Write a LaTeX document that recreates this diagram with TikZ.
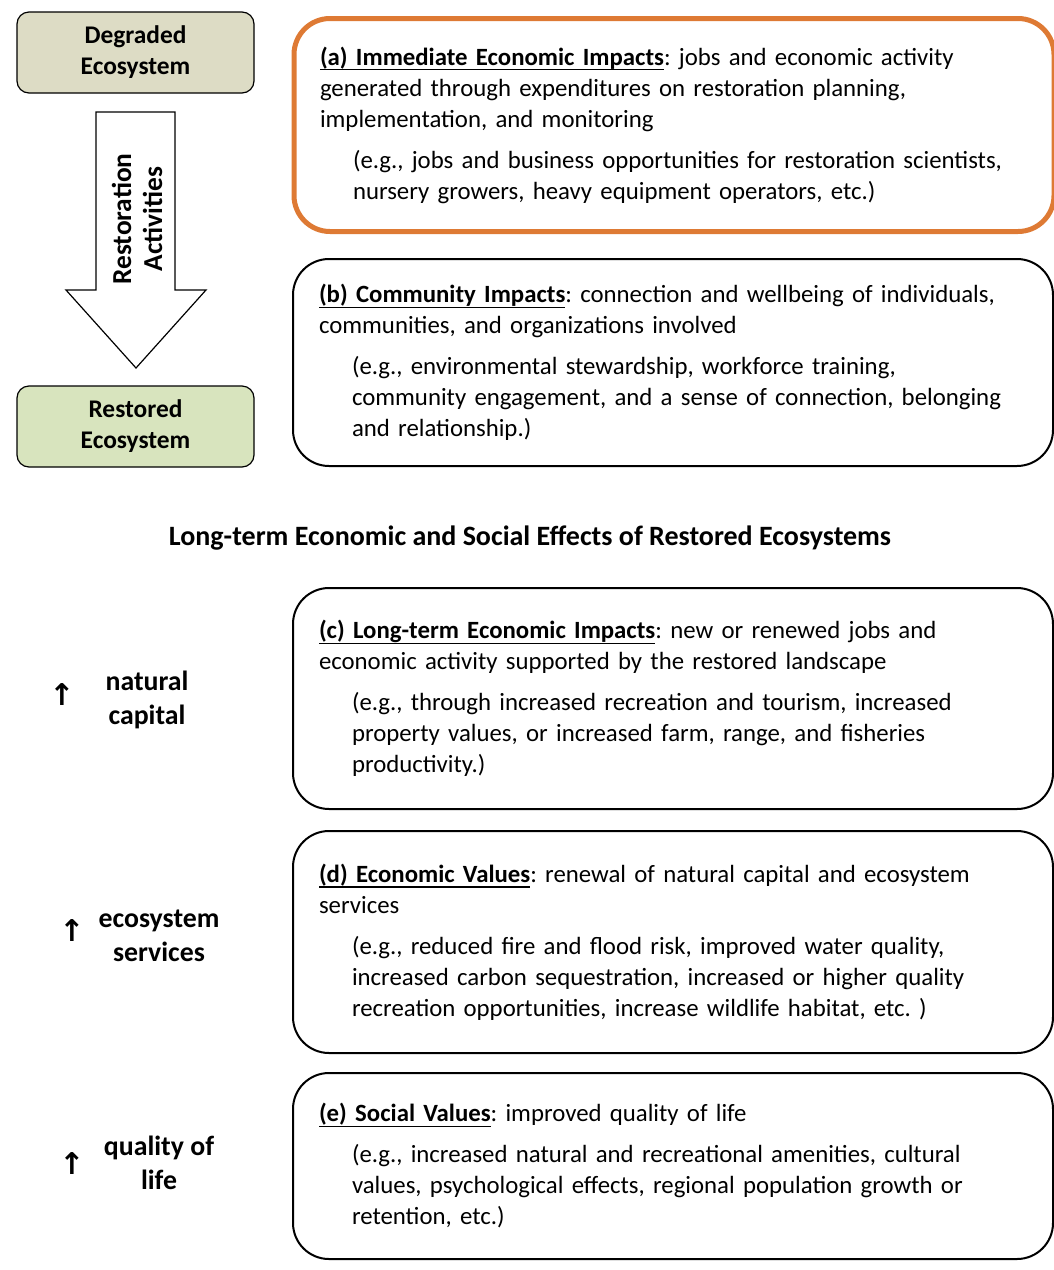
\documentclass[tikz,border=0pt]{standalone}
\usepackage{fontspec}
\setmainfont{Carlito}
\newfontfamily\arrowfont{DejaVu Sans}
\frenchspacing

\definecolor{degraded}{RGB}{221,220,197}
\definecolor{restored}{RGB}{216,228,190}
\definecolor{highlight}{RGB}{222,122,52}

\newsavebox{\headbox}
\newcommand{\headline}[1]{\sbox{\headbox}{\textbf{#1}}\usebox{\headbox}\llap{\rule[-2.7pt]{\wd\headbox}{0.6pt}}}
\newcommand{\ind}{\hspace*{16.5pt}}

\begin{document}
\begin{tikzpicture}[x=0.5pt, y=-0.5pt,
  impact/.style={draw, line width=1pt, rounded corners=18pt, minimum width=380pt,
    text width=354pt, inner xsep=13pt, inner ysep=0pt, align=left, anchor=north west,
    font=\fontsize{12.4}{15.5}\selectfont},
  keybox/.style={draw, line width=0.6pt, rounded corners=6pt, minimum width=118.5pt,
    minimum height=40.5pt, align=center, font=\fontsize{12.7}{15.5}\selectfont\bfseries},
  gain/.style={align=center, font=\fontsize{13.9}{17}\selectfont\bfseries},
  uparrow/.style={font=\fontsize{15}{17}\selectfont\arrowfont\bfseries},
  ]
  \useasboundingbox (0,0) rectangle (1054,1270);

  % Ecosystem states
  \node[keybox, fill=degraded] (degraded) at (135.5,52.5) {Degraded\\Ecosystem};
  \node[keybox, fill=restored] (restored) at (135.5,426.5) {Restored\\Ecosystem};

  % Block arrow
  \draw[line width=0.6pt, fill=white]
    (96,112) -- (175,112) -- (175,290) -- (206,290) -- (136,368) -- (66,290) -- (96,290) -- cycle;
  \node[rotate=90, align=center, font=\fontsize{13.7}{15.5}\selectfont\bfseries] (activities)
    at (137,219) {Restoration\\Activities};

  % Short-term impacts
  \node[impact, draw=highlight, line width=2.5pt, minimum height=106.5pt] (immediate) at (291.5,16) {%
    \headline{(a) Immediate Economic Impacts}: jobs and economic activity\\
    generated through expenditures on restoration planning,\\
    implementation, and monitoring\\[5pt]
    \ind(e.g., jobs and business opportunities for restoration scientists,\\
    \ind nursery growers, heavy equipment operators, etc.)};

  \node[impact, minimum height=103.5pt] (community) at (292,258) {%
    \headline{(b) Community Impacts}: connection and wellbeing of individuals,\\
    communities, and organizations involved\\[5pt]
    \ind(e.g., environmental stewardship, workforce training,\\
    \ind community engagement, and a sense of connection, belonging\\
    \ind and relationship.)};

  % Long-term effects
  \node[font=\fontsize{14}{17}\selectfont\bfseries] (title) at (530,538)
    {Long-term Economic and Social Effects of Restored Ecosystems};

  \node[impact, minimum height=110.5pt] (longterm) at (292,587) {%
    \headline{(c) Long-term Economic Impacts}: new or renewed jobs and\\
    economic activity supported by the restored landscape\\[5pt]
    \ind(e.g., through increased recreation and tourism, increased\\
    \ind property values, or increased farm, range, and fisheries\\
    \ind productivity.)};

  \node[impact, minimum height=111pt] (economic) at (292,830) {%
    \headline{(d) Economic Values}: renewal of natural capital and ecosystem\\
    services\\[5pt]
    \ind(e.g., reduced fire and flood risk, improved water quality,\\
    \ind increased carbon sequestration, increased or higher quality\\
    \ind recreation opportunities, increase wildlife habitat, etc. )};

  \node[impact, minimum height=93pt] (social) at (292,1072) {%
    \headline{(e) Social Values}: improved quality of life\\[5pt]
    \ind(e.g., increased natural and recreational amenities, cultural\\
    \ind values, psychological effects, regional population growth or\\
    \ind retention, etc.)};

  % Gains
  \node[gain] (capital) at (147,700) {natural\\capital};
  \node[uparrow] (capitalup) at (62,695) {↑};
  \node[gain] (services) at (159,936) {ecosystem\\services};
  \node[uparrow] (servicesup) at (72,931) {↑};
  \node[gain] (life) at (159,1163) {quality of\\life};
  \node[uparrow] (lifeup) at (72,1163) {↑};

\end{tikzpicture}
\end{document}
